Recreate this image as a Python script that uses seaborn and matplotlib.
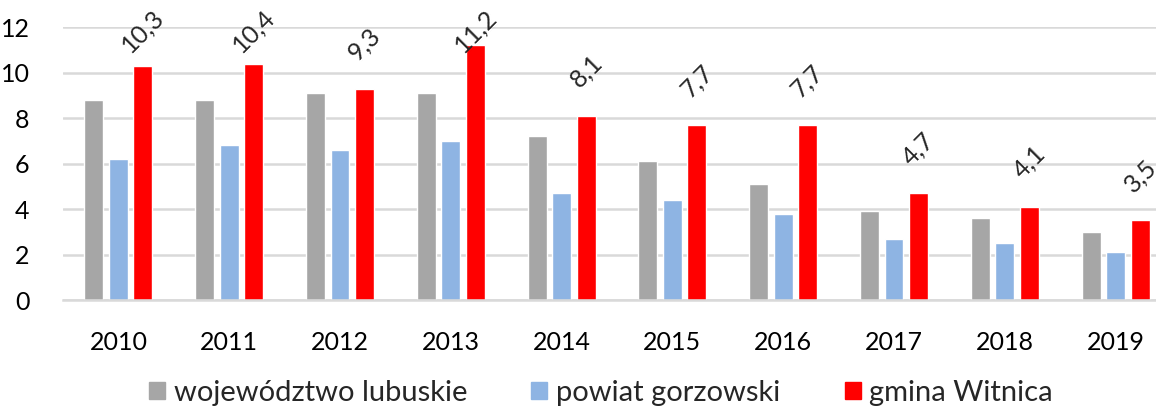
import pandas as pd
import seaborn as sns
import matplotlib.pyplot as plt

years = ["2010", "2011", "2012", "2013", "2014", "2015", "2016", "2017", "2018", "2019"]
series_names = ["województwo lubuskie", "powiat gorzowski", "gmina Witnica"]
wojewodztwo = [8.8, 8.8, 9.1, 9.1, 7.2, 6.1, 5.1, 3.9, 3.6, 3.0]
powiat = [6.2, 6.8, 6.6, 7.0, 4.7, 4.4, 3.8, 2.7, 2.5, 2.1]
gmina = [10.3, 10.4, 9.3, 11.2, 8.1, 7.7, 7.7, 4.7, 4.1, 3.5]
colors = ["#A6A6A6", "#8EB4E3", "#FF0000"]

# long format table for seaborn
df = pd.concat([
    pd.DataFrame({"year": years, "value": vals, "series": name})
    for name, vals in zip(series_names, [wojewodztwo, powiat, gmina])
])

sns.set_theme(style="white")
plt.rcParams["font.family"] = ["Lato", "DejaVu Sans"]

fig = plt.figure(figsize=(11.56, 4.09), dpi=100)
ax = fig.add_axes([63 / 1156, 109 / 409, 1108 / 1156, (409 - 109 - 27.3) / 409])

sns.barplot(data=df, x="year", y="value", hue="series", palette=colors,
            width=0.663, gap=0.226, ax=ax, legend=True, saturation=1)

ax.set_ylim(0, 12)
ax.set_xlim(-0.5, 9.5)
ax.set_yticks(range(0, 13, 2))
ax.yaxis.grid(True, color="#D9D9D9", linewidth=1.8)
ax.set_axisbelow(True)
for side in ["top", "right", "left"]:
    ax.spines[side].set_visible(False)
ax.spines["bottom"].set_color("#D9D9D9")
ax.spines["bottom"].set_linewidth(1.8)
ax.tick_params(axis="both", length=0, labelsize=18, colors="black")
ax.tick_params(axis="x", pad=22)
ax.tick_params(axis="y", pad=24)
ax.set_xlabel("")
ax.set_ylabel("")

# rotated value labels above the red bars only
for bar, v in zip(ax.containers[2], gmina):
    xc = bar.get_x() + bar.get_width() / 2
    ax.text(xc, min(v + 1.06, 10.7), f"{v:.1f}".replace(".", ","),
            rotation=45, ha="center", va="bottom", fontsize=18)

ax.legend_.remove()
handles = [plt.Rectangle((0, 0), 1, 1, color=c) for c in colors]
fig.legend(handles, series_names, loc="center", bbox_to_anchor=(601 / 1156, 16 / 409),
           ncol=3, frameon=False, fontsize=21, handlelength=0.55, handleheight=0.55,
           handletextpad=0.3, columnspacing=2.2)

plt.savefig("out.png", dpi=100)
